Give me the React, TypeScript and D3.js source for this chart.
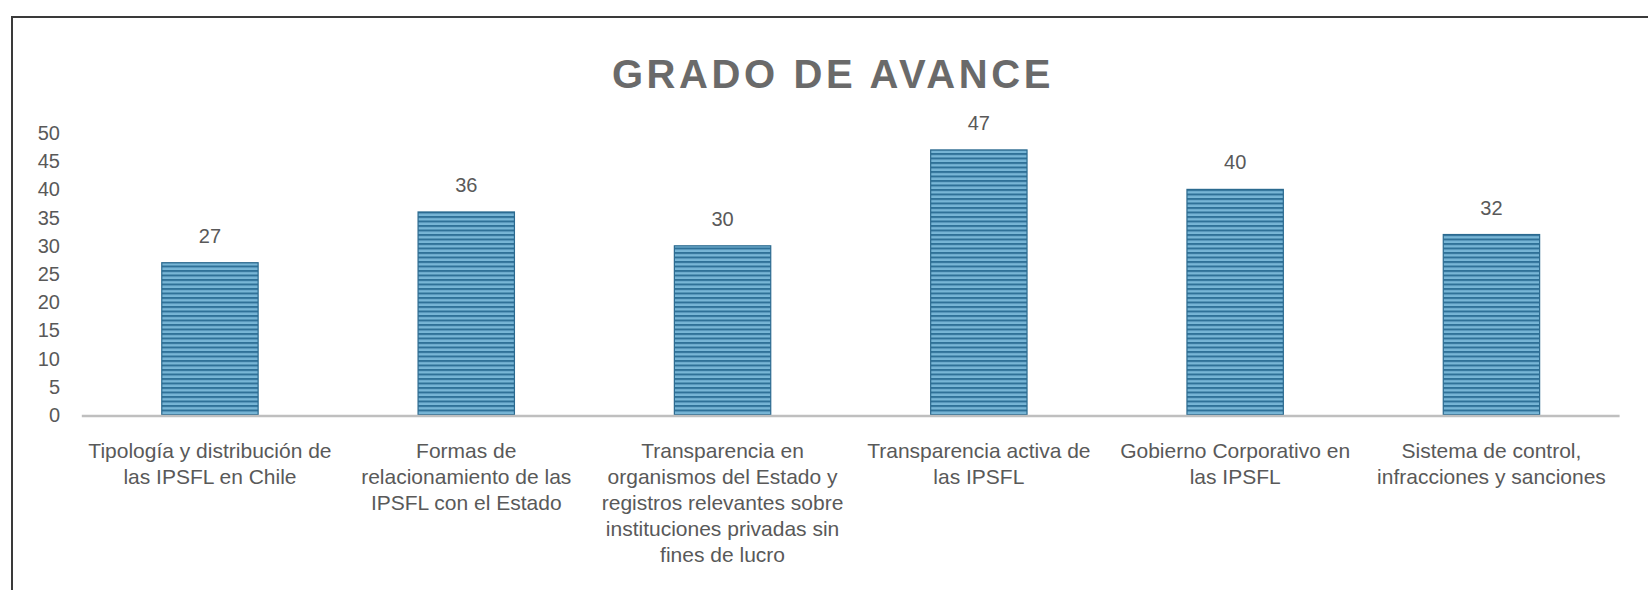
import React from "react";
import * as d3 from "d3";

const title = "GRADO DE AVANCE";
const categories: string[][] = [
  ["Tipología y distribución de", "las IPSFL en Chile"],
  ["Formas de", "relacionamiento de las", "IPSFL con el Estado"],
  ["Transparencia en", "organismos del Estado y", "registros relevantes sobre", "instituciones privadas sin", "fines de lucro"],
  ["Transparencia activa de", "las IPSFL"],
  ["Gobierno Corporativo en", "las IPSFL"],
  ["Sistema de control,", "infracciones y sanciones"],
];
const values: number[] = [27, 36, 30, 47, 40, 32];
const yTicks: number[] = [0, 5, 10, 15, 20, 25, 30, 35, 40, 45, 50];

const W = 1648;
const H = 590;
const FONT = "'Liberation Sans', Arial, sans-serif";
const TEXT = "#595959";

export default function App() {
  const ids = categories.map((_, i) => String(i));
  const x = d3.scaleBand<string>().domain(ids).range([81.8, 1619.6]).paddingInner(0.624).paddingOuter(0.312);
  const y = d3.scaleLinear().domain([0, 50]).range([415, 133]);

  return (
    <svg width={W} height={H} style={{ position: "absolute", left: 0, top: 0, background: "#fff" }}>
      <defs>
        <pattern id="stripes" patternUnits="userSpaceOnUse" width={10} height={4.5}>
          <rect x={0} y={0} width={10} height={4.5} fill="#78b6d6" />
          <rect x={0} y={0} width={10} height={2} fill="#2f7198" />
        </pattern>
      </defs>
      <rect x={0} y={0} width={W} height={H} fill="#fff" />
      {/* frame */}
      <path d={`M12,${H + 2} L12,17 L${W + 2},17`} fill="none" stroke="#3a3a3a" strokeWidth={2} />

      {/* title */}
      <text x={833} y={88} textAnchor="middle" fontFamily={FONT} fontWeight="bold" fontSize={40}
        letterSpacing={3.6} fill="#6a6a6a">{title}</text>

      {/* y tick labels */}
      {yTicks.map((t) => (
        <text key={t} x={60} y={y(t)} dy="0.35em" textAnchor="end" fontFamily={FONT} fontSize={20} fill={TEXT}>
          {t}
        </text>
      ))}

      {/* bars */}
      {values.map((v, i) => (
        <rect key={i} x={x(ids[i])!} y={y(v)} width={x.bandwidth()} height={y(0) - y(v)}
          fill="url(#stripes)" stroke="#2b6a8f" strokeWidth={1.2} />
      ))}

      {/* axis line */}
      <line x1={81.8} x2={1619.6} y1={y(0) + 1} y2={y(0) + 1} stroke="#bfbfbf" strokeWidth={2.5} />

      {/* data labels */}
      {values.map((v, i) => (
        <text key={i} x={x(ids[i])! + x.bandwidth() / 2} y={y(v) - 20} textAnchor="middle"
          fontFamily={FONT} fontSize={20} fill={TEXT}>{v}</text>
      ))}

      {/* category labels */}
      {categories.map((lines, i) => (
        <text key={i} textAnchor="middle" fontFamily={FONT} fontSize={21} fill={TEXT}>
          {lines.map((ln, j) => (
            <tspan key={j} x={x(ids[i])! + x.bandwidth() / 2} y={458 + j * 26}>{ln}</tspan>
          ))}
        </text>
      ))}
    </svg>
  );
}
